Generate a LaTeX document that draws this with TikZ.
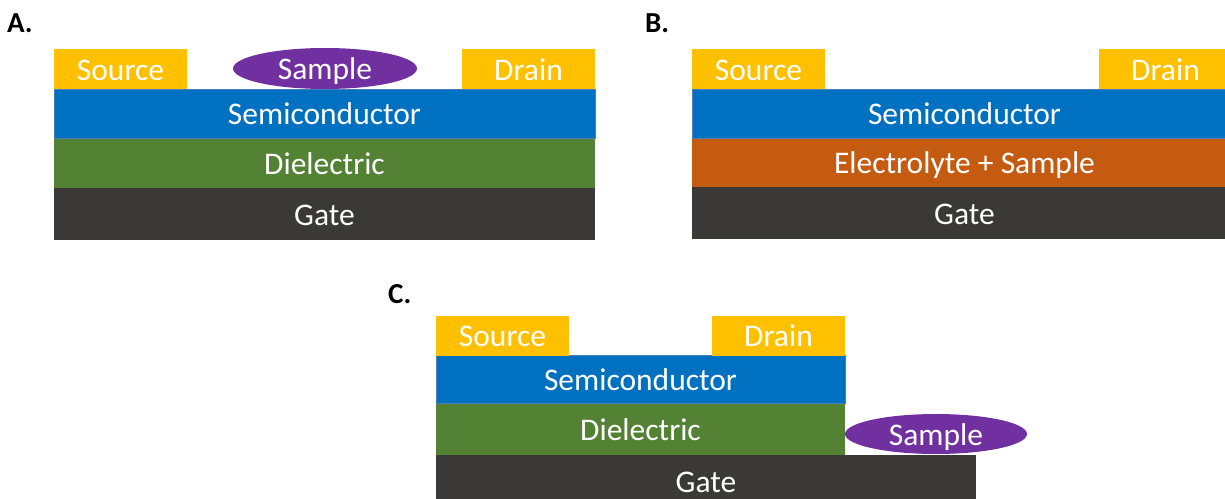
\documentclass[tikz,border=0pt]{standalone}
\usepackage{fontspec}
\setmainfont{Carlito}
\usetikzlibrary{shapes.geometric}
\definecolor{srcY}{HTML}{FFC000}
\definecolor{semiB}{HTML}{0070C0}
\definecolor{semiEdge}{HTML}{4A7EBB}
\definecolor{dielG}{HTML}{548235}
\definecolor{gateK}{HTML}{3B3838}
\definecolor{elecO}{HTML}{C55A11}
\definecolor{sampP}{HTML}{7030A0}
\tikzset{
  layer/.style={rectangle, anchor=north west, inner sep=0pt, outer sep=0pt,
    text=white, font=\fontsize{31.5}{36}\selectfont, text height=22pt, text depth=0pt},
  contact/.style={layer, fill=srcY, minimum width=133pt, minimum height=40pt},
  semilayer/.style={layer, fill=semiB, draw=semiEdge, line width=0.6pt},
  diellayer/.style={layer, fill=dielG},
  gatelayer/.style={layer, fill=gateK},
  eleclayer/.style={layer, fill=elecO},
  sample/.style={ellipse, fill=sampP, inner sep=0pt, outer sep=0pt, text=white,
    font=\fontsize{31.5}{36}\selectfont, text height=22pt, text depth=0pt},
  panel/.style={font=\fontsize{29}{34}\selectfont\bfseries, anchor=north west, inner sep=0pt}
}
\begin{document}
\begin{tikzpicture}[x=1pt,y=-1pt]
\useasboundingbox (0,0) rectangle (1225,498);
\clip (0,0) rectangle (1225,498);
% Panel A
\node[panel] (labA) at (7,13) {A.};
\node[gatelayer, minimum width=541pt, minimum height=52pt] (gA) at (54,188) {Gate};
\node[diellayer, minimum width=541pt, minimum height=50pt] (dA) at (54,138) {Dielectric};
\node[semilayer, minimum width=541pt, minimum height=49pt] (sA) at (54,89) {Semiconductor};
\node[contact] (srcA) at (54,49) {Source};
\node[contact] (drA) at (462,49) {Drain};
\node[sample, minimum width=184pt, minimum height=41pt] (smA) at (325,68.5) {Sample};
% Panel B
\node[panel] (labB) at (645,13) {B.};
\node[gatelayer, minimum width=545pt, minimum height=52pt] (gB) at (692,187) {Gate};
\node[eleclayer, minimum width=545pt, minimum height=49pt] (eB) at (692,138) {Electrolyte + Sample};
\node[semilayer, minimum width=545pt, minimum height=49pt] (sB) at (692,89) {Semiconductor};
\node[contact] (srcB) at (692,49) {Source};
\node[contact] (drB) at (1099,49) {Drain};
% Panel C
\node[panel] (labC) at (388,284) {C.};
\node[gatelayer, minimum width=540pt, minimum height=53pt] (gC) at (436,455) {Gate};
\node[diellayer, minimum width=409pt, minimum height=52pt] (dC) at (436,403) {Dielectric};
\node[semilayer, minimum width=409pt, minimum height=48pt] (sC) at (436,355.5) {Semiconductor};
\node[contact] (srcC) at (436,315.5) {Source};
\node[contact] (drC) at (712,315.5) {Drain};
\node[sample, minimum width=182pt, minimum height=40pt] (smC) at (936,434) {Sample};
\end{tikzpicture}
\end{document}
